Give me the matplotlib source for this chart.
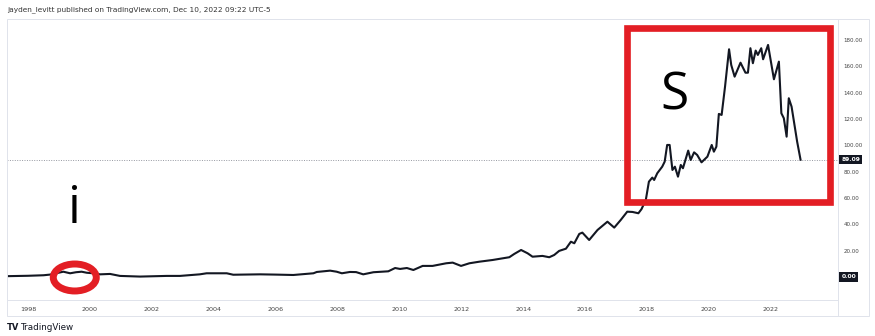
import numpy as np
import matplotlib.pyplot as plt
from matplotlib.patches import Rectangle, Ellipse
from matplotlib.lines import Line2D
import matplotlib.transforms as mtransforms

# price history, decimal years
years = [1997.3, 1998.0, 1998.5, 1998.71, 1999.14, 1999.36, 1999.55, 1999.73, 1999.9,
         2000.11, 2000.33, 2000.65, 2000.97, 2001.62, 2002.48, 2002.91, 2003.55, 2003.77,
         2004.42, 2004.63, 2005.5, 2006.0, 2006.57, 2007.22, 2007.33, 2007.76, 2007.97,
         2008.14, 2008.4, 2008.6, 2008.83, 2009.16, 2009.64, 2009.86, 2010.02, 2010.24,
         2010.45, 2010.75, 2011.07, 2011.51, 2011.72, 2011.99, 2012.26, 2012.58, 2013.01,
         2013.55, 2013.71, 2013.93, 2014.14, 2014.3, 2014.62, 2014.84, 2015.0, 2015.16,
         2015.38, 2015.54, 2015.65, 2015.81, 2015.91, 2016.13, 2016.4, 2016.72, 2016.94,
         2017.15, 2017.36, 2017.53, 2017.72, 2017.82, 2017.96, 2018.06, 2018.17, 2018.23,
         2018.33, 2018.49, 2018.57, 2018.65, 2018.73, 2018.82, 2018.9, 2019.0, 2019.09,
         2019.16, 2019.33, 2019.41, 2019.52, 2019.62, 2019.76, 2019.95, 2020.09, 2020.16,
         2020.24, 2020.32, 2020.41, 2020.52, 2020.65, 2020.72, 2020.83, 2021.02, 2021.18,
         2021.26, 2021.34, 2021.42, 2021.51, 2021.58, 2021.69, 2021.75, 2021.91, 2022.1,
         2022.26, 2022.34, 2022.42, 2022.51, 2022.58, 2022.67, 2022.85, 2022.96]
prices = [0.6, 0.9, 1.3, 1.8, 4.0, 2.8, 3.6, 4.0, 3.2,
          2.8, 2.0, 2.3, 0.8, 0.3, 0.8, 0.8, 2.0, 2.8,
          2.8, 1.7, 2.0, 1.8, 1.5, 2.8, 3.8, 4.8, 4.0,
          2.8, 3.8, 3.7, 2.0, 3.6, 4.3, 6.8, 6.1, 6.8,
          5.3, 8.4, 8.4, 10.4, 10.9, 8.4, 10.4, 11.6, 12.9,
          15.0, 17.5, 20.5, 18.0, 15.4, 16.0, 15.0, 16.7, 19.8,
          21.5, 26.8, 25.6, 32.7, 33.7, 28.1, 35.7, 42.0, 37.5,
          43.3, 49.6, 49.4, 48.4, 51.5, 58.5, 72.4, 75.5, 73.7,
          78.8, 83.8, 87.6, 100.3, 100.3, 81.3, 83.8, 76.2, 85.1,
          82.6, 96.0, 88.9, 94.7, 92.7, 87.1, 91.4, 100.3, 95.2,
          99.0, 123.9, 123.1, 144.6, 173.0, 161.1, 152.2, 162.8, 155.2,
          155.2, 173.8, 162.4, 172.0, 168.7, 173.8, 165.4, 176.3, 150.2,
          163.6, 124.4, 120.6, 106.6, 135.8, 129.4, 102.8, 89.09]
last_price = 89.09

year_ticks = list(range(1998, 2023, 2))
price_ticks = [20, 40, 60, 80, 100, 120, 140, 160, 180]

W, H = 875, 336
fig = plt.figure(figsize=(W / 100, H / 100), dpi=100)
fig.patch.set_facecolor('white')

def fx(px):
    return px / W

def fy(py):
    return 1 - py / H

ax = fig.add_axes([fx(7), fy(300), fx(838) - fx(7), fy(19) - fy(300)])
ax.set_xlim(1997.32, 2024.17)
ax.set_ylim(-17.5, 196.0)
for s in ax.spines.values():
    s.set_visible(False)

ax.plot(years, prices, color='#131722', lw=1.5, solid_joinstyle='round', zorder=3)
ax.axhline(last_price, color='#9598a1', lw=0.7, ls=(0, (1, 1.5)), zorder=1)

# x axis
ax.set_xticks(year_ticks)
ax.set_xticklabels([str(y) for y in year_ticks], fontsize=4.6, color='#444')
ax.tick_params(axis='x', length=0, pad=5)

# y axis on the right
ax.yaxis.tick_right()
ax.set_yticks(price_ticks)
ax.set_yticklabels(['%.2f' % v for v in price_ticks], fontsize=4, color='#444')
ax.tick_params(axis='y', length=0, pad=4)

trans = mtransforms.blended_transform_factory(ax.transAxes, ax.transData)
for val in [last_price, 0.0]:
    ax.text(1.004, val, '%.2f' % val, transform=trans, fontsize=4.3, color='white',
            fontweight='bold', ha='left', va='center',
            bbox=dict(boxstyle='square,pad=0.35', fc='#131722', ec='none'))

# annotations
ax.add_patch(Rectangle((2017.34, 57.2), 2023.9 - 2017.34, 189.0 - 57.2, fill=False,
                       ec='#e31e24', lw=4.8, zorder=4, joinstyle='miter'))
ax.add_patch(Ellipse((1999.51, -0.4), 1.39, 20.5, fill=False, ec='#e31e24', lw=5,
                     zorder=4))
ax.text(2018.89, 126.9, 'S', fontsize=37, family='Open Sans', ha='center',
        va='baseline', color='black')
ax.text(1999.49, 40.8, 'i', fontsize=37, family='Open Sans', ha='center',
        va='baseline', color='black')

# chart frame
frame_c = '#e0e3eb'
fig.add_artist(Rectangle((fx(7), fy(316)), fx(869) - fx(7), fy(19) - fy(316),
                         transform=fig.transFigure, fill=False, ec=frame_c, lw=0.7))
fig.add_artist(Line2D([fx(7), fx(838)], [fy(300), fy(300)], transform=fig.transFigure,
                      color=frame_c, lw=0.7))
fig.add_artist(Line2D([fx(838), fx(838)], [fy(19), fy(316)], transform=fig.transFigure,
                      color=frame_c, lw=0.7))

fig.text(fx(7), fy(10), 'jayden_levitt published on TradingView.com, Dec 10, 2022 09:22 UTC-5',
         fontsize=5.3, color='#333', ha='left', va='center')
fig.text(fx(7), fy(327), 'TV', fontsize=6, fontweight='bold', color='#131722',
         ha='left', va='center')
fig.text(fx(20), fy(327), 'TradingView', fontsize=6.3, color='#131722', ha='left',
         va='center')

fig.savefig('out.png', dpi=100, facecolor='white')
